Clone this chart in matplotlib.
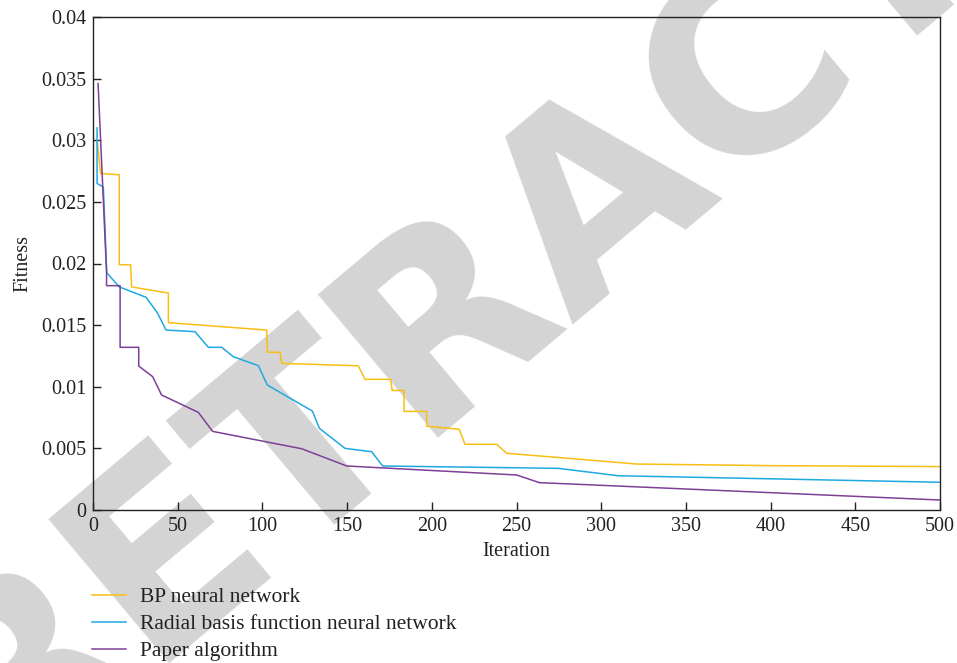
import matplotlib
matplotlib.use("Agg")
import matplotlib.pyplot as plt

# Data
bp_x = [2.5, 4.5, 15.5, 15.5, 22.2, 22.8, 44.5, 44.5, 102.5, 103, 110.4, 111.4, 156.6, 160.6,
        175.7, 176.6, 183.6, 183.6, 197, 197, 216.2, 219.6, 238.3, 244.2, 275.7, 321, 400, 500]
bp_y = [0.0299, 0.0273, 0.0272, 0.0199, 0.0199, 0.0181, 0.0176, 0.0152, 0.0146, 0.0128,
        0.0128, 0.0119, 0.0117, 0.0106, 0.0106, 0.0097, 0.0097, 0.0080, 0.0080, 0.0068,
        0.00655, 0.00533, 0.00533, 0.0046, 0.00425, 0.00373, 0.0036, 0.00352]

rbf_x = [2.4, 2.4, 6.1, 8.1, 15.5, 31.3, 38, 43.1, 60.2, 68.1, 76, 82.8, 97.6, 102.9,
         129.5, 133.6, 148.8, 164.5, 171, 274.7, 310, 400, 500]
rbf_y = [0.0310, 0.0265, 0.0262, 0.01925, 0.0181, 0.01726, 0.0160, 0.0146, 0.01447,
         0.0132, 0.0132, 0.01244, 0.01171, 0.01014, 0.00803, 0.00663, 0.0050, 0.00473,
         0.00357, 0.00338, 0.00278, 0.00253, 0.00225]

pa_x = [3, 8, 8, 16, 16, 27, 27, 35.2, 40.5, 62.2, 70.6, 123.2, 149.8, 250.1, 263.5, 500]
pa_y = [0.0346, 0.0193, 0.0182, 0.0182, 0.0132, 0.0132, 0.01168, 0.01082, 0.00933,
        0.00792, 0.00638, 0.00497, 0.00357, 0.00284, 0.00222, 0.00081]

labels = ["BP neural network", "Radial basis function neural network", "Paper algorithm"]
colors = ["#F9BE14", "#1EA9E1", "#7E3F98"]

x_ticks = [0, 50, 100, 150, 200, 250, 300, 350, 400, 450, 500]
y_ticks = [0, 0.005, 0.01, 0.015, 0.02, 0.025, 0.03, 0.035, 0.04]
y_tick_labels = ["0", "0.005", "0.01", "0.015", "0.02", "0.025", "0.03", "0.035", "0.04"]

plt.rcParams['font.family'] = ['Liberation Serif', 'DejaVu Serif']

W, H = 957, 663
FS = 14.5
fig = plt.figure(figsize=(W / 100, H / 100), dpi=100)

# Watermark
fig.text(600 / W, 1 - 190 / H, "RETRACTED", fontsize=185, color="#d4d4d4",
         family="DejaVu Sans", weight="bold", rotation=40, rotation_mode="anchor",
         ha="center", va="center", zorder=-1)

ax = fig.add_axes([93 / W, 1 - 510 / H, (940 - 93) / W, (510 - 17) / H])
ax.patch.set_alpha(0)

for xs, ys, lab, c in zip([bp_x, rbf_x, pa_x], [bp_y, rbf_y, pa_y], labels, colors):
    ax.plot(xs, ys, color=c, lw=1.1, label=lab)

ax.set_xlim(0, 500)
ax.set_ylim(0, 0.04)
ax.set_xticks(x_ticks)
ax.set_xticklabels([str(t) for t in x_ticks])
ax.set_yticks(y_ticks)
ax.set_yticklabels(y_tick_labels)
ax.tick_params(direction="in", length=6, width=1, colors="#222222", labelsize=FS,
               top=False, right=False, pad=5)
for s in ax.spines.values():
    s.set_color("#222222")
    s.set_linewidth(1)

ax.set_xlabel("Iteration", fontsize=FS, color="#222222", labelpad=4)
ax.set_ylabel("Fitness", fontsize=FS, color="#222222", labelpad=6)

leg = fig.legend(loc="upper left", bbox_to_anchor=(92 / W, 1 - 587 / H), frameon=False,
                 fontsize=15.5, handlelength=1.6, handletextpad=0.65, labelspacing=0.33,
                 borderpad=0, borderaxespad=0)
for t in leg.get_texts():
    t.set_color("#222222")

fig.savefig("out.png", dpi=100)
